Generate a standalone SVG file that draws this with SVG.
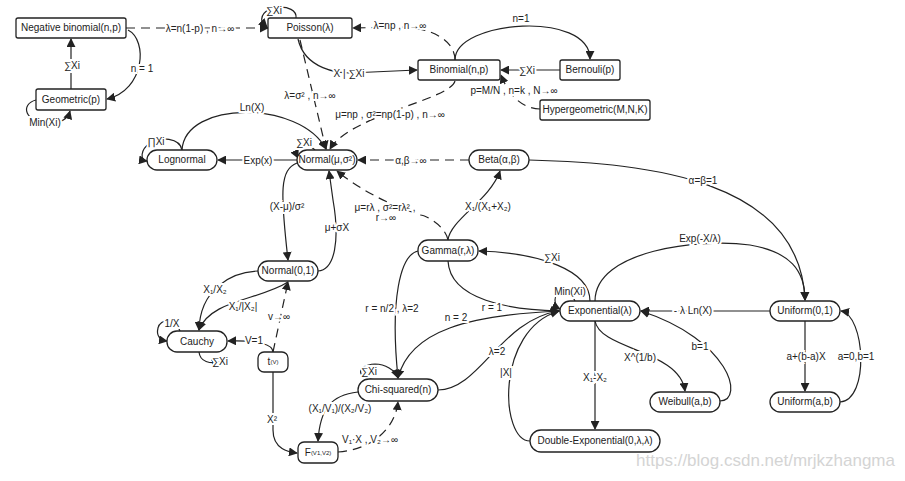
<svg xmlns="http://www.w3.org/2000/svg" width="905" height="481" viewBox="0 0 905 481">
<style>
.n rect{fill:#fff;stroke:#222;stroke-width:1.3}
.n text,.l{font-family:"Liberation Sans",Arial,sans-serif;font-size:10px;fill:#222;text-anchor:middle}
.n text{dominant-baseline:middle}
.l{paint-order:stroke;stroke:#fff;stroke-width:4px;dominant-baseline:middle}
#edges path{fill:none;stroke:#222;stroke-width:1.2;marker-end:url(#ah)}
#edges path.d{stroke-dasharray:9,6}
</style>
<defs><marker id="ah" viewBox="0 0 10 10" refX="9" refY="5" markerWidth="9" markerHeight="9" markerUnits="userSpaceOnUse" orient="auto"><path d="M0,0L10,5L0,10z" fill="#222"/></marker></defs>
<rect width="905" height="481" fill="#fff"/>
<g id="edges">
<path class="d" d="M126,28 L268,28"/>
<path d="M128,30 C148,40 145,90 107,99"/>
<path d="M71,89 L71,39"/>
<path d="M36,100 C20,104 24,123 50,123 C62,123 68,118 70,111"/>
<path d="M296,18 C298,2 258,4 262,22 L267,27"/>
<path class="d" d="M455,60 C455,40 430,27 400,27 L353,28"/>
<path d="M298,39 C305,70 340,73 350,73 L417,70"/>
<path class="d" d="M300,40 L326,149"/>
<path class="d" d="M455,81 C450,100 350,115 330,149"/>
<path d="M455,60 C455,20 590,10 590,59"/>
<path d="M560,70 L501,70"/>
<path class="d" d="M540,109 C515,108 505,85 501,75"/>
<path d="M315,150 C305,140 292,145 298,158"/>
<path d="M182,150 C180,138 160,136 150,143 C140,150 140,160 147,161"/>
<path d="M182,150 C185,100 300,100 326,149"/>
<path d="M297,160 L218,160"/>
<path class="d" d="M469,160 L358,160"/>
<path d="M529,160 C650,163 800,180 805,300"/>
<path d="M297,163 C280,170 280,190 288,260"/>
<path d="M318,271 C335,270 340,240 333,200 L329,171"/>
<path class="d" d="M448,240 C445,225 425,215 420,215 C390,205 360,190 337,171"/>
<path d="M448,240 C450,220 490,200 500,171"/>
<path d="M258,271 C230,272 200,290 199,330"/>
<path class="d" d="M273,352 L288,282"/>
<path d="M288,282 C260,300 210,300 199,330"/>
<path d="M180,331 C176,318 160,318 158,328 C156,336 160,340 167,341"/>
<path d="M199,352 C200,362 210,364 220,362"/>
<path d="M273,352 C273,345 260,340 228,341"/>
<path d="M273,372 L273,430 C273,450 290,452 297,453"/>
<path d="M418,251 C400,255 390,300 398,378"/>
<path d="M448,261 C450,300 510,310 559,311"/>
<path d="M590,301 C590,270 540,253 479,251"/>
<path d="M575,301 C568,285 555,290 555,300 C555,305 558,308 560,309"/>
<path d="M560,311 C470,315 410,330 398,378"/>
<path d="M438,390 C480,390 500,320 559,311"/>
<path d="M530,441 C500,441 495,330 559,311"/>
<path d="M595,321 L595,429"/>
<path d="M595,321 C600,350 680,350 685,391"/>
<path d="M720,401 C745,400 730,340 641,311"/>
<path d="M595,301 C595,250 700,238 750,245 C790,252 805,270 805,300"/>
<path d="M770,311 L641,311"/>
<path d="M805,321 L805,391"/>
<path d="M840,402 C870,400 865,315 841,311"/>
<path d="M380,380 C355,380 355,365 375,364 C385,364 395,370 398,378"/>
<path d="M358,392 C330,395 320,410 318,441"/>
<path class="d" d="M338,452 C370,450 395,430 398,402"/>
</g>
<g id="labels">
<text class="l" x="200" y="29">λ=n(1-p) , n→∞</text>
<text class="l" x="142" y="69">n = 1</text>
<text class="l" x="72" y="66">∑Xi</text>
<text class="l" x="45" y="123">Min(Xi)</text>
<text class="l" x="274" y="11">∑Xi</text>
<text class="l" x="400" y="26">λ=np , n→∞</text>
<text class="l" x="349" y="74">X | ∑Xi</text>
<text class="l" x="310" y="96">λ=σ² , n→∞</text>
<text class="l" x="390" y="115">μ=np , σ²=np(1-p) , n→∞</text>
<text class="l" x="521" y="19">n=1</text>
<text class="l" x="527" y="71">∑Xi</text>
<text class="l" x="514" y="91">p=M/N , n=k , N→∞</text>
<text class="l" x="304" y="143">∑Xi</text>
<text class="l" x="156" y="142">∏Xi</text>
<text class="l" x="252" y="108">Ln(X)</text>
<text class="l" x="258" y="161">Exp(x)</text>
<text class="l" x="411" y="161">α,β→∞</text>
<text class="l" x="703" y="181">α=β=1</text>
<text class="l" x="287" y="207">(X-μ)/σ²</text>
<text class="l" x="337" y="228">μ+σX</text>
<text class="l" x="385" y="208">μ=rλ , σ²=rλ² ,</text>
<text class="l" x="386" y="218">r→∞</text>
<text class="l" x="488" y="207">X₁/(X₁+X₂)</text>
<text class="l" x="215" y="290">X₁/X₂</text>
<text class="l" x="243" y="307">X₁/|X₂|</text>
<text class="l" x="279" y="317">v→∞</text>
<text class="l" x="172" y="324">1/X</text>
<text class="l" x="220" y="362">∑Xi</text>
<text class="l" x="254" y="341">V=1</text>
<text class="l" x="272" y="420">X²</text>
<text class="l" x="392" y="309">r = n/2 , λ=2</text>
<text class="l" x="492" y="308">r = 1</text>
<text class="l" x="552" y="258">∑Xi</text>
<text class="l" x="570" y="292">Min(Xi)</text>
<text class="l" x="456" y="318">n = 2</text>
<text class="l" x="497" y="352">λ=2</text>
<text class="l" x="506" y="373">|X|</text>
<text class="l" x="595" y="378">X₁-X₂</text>
<text class="l" x="640" y="358">X^(1/b)</text>
<text class="l" x="700" y="347">b=1</text>
<text class="l" x="700" y="239">Exp(-X/λ)</text>
<text class="l" x="693" y="311">- λ Ln(X)</text>
<text class="l" x="806" y="357">a+(b-a)X</text>
<text class="l" x="856" y="357">a=0,b=1</text>
<text class="l" x="369" y="372">∑Xi</text>
<text class="l" x="340" y="409">(X₁/V₁)/(X₂/V₂)</text>
<text class="l" x="370" y="440">V₁·X , V₂→∞</text>
</g>
<g id="nb" class="n"><rect x="16" y="18" width="110" height="20" rx="2"/><text x="71" y="28">Negative binomial(n,p)</text></g>
<g id="poisson" class="n"><rect x="268" y="18" width="84" height="20" rx="2"/><text x="310" y="28">Poisson(λ)</text></g>
<g id="binomial" class="n"><rect x="418" y="60" width="82" height="20" rx="2"/><text x="459" y="70">Binomial(n,p)</text></g>
<g id="bernoulli" class="n"><rect x="560" y="60" width="60" height="20" rx="2"/><text x="590" y="70">Bernouli(p)</text></g>
<g id="hyper" class="n"><rect x="540" y="100" width="110" height="20" rx="2"/><text x="595" y="110">Hypergeometric(M,N,K)</text></g>
<g id="geom" class="n"><rect x="36" y="89" width="70" height="21" rx="2"/><text x="71" y="100">Geometric(p)</text></g>
<g id="lognormal" class="n"><rect x="147" y="150" width="70" height="20" rx="10"/><text x="182" y="160">Lognormal</text></g>
<g id="normal" class="n"><rect x="297" y="150" width="60" height="20" rx="10"/><text x="327" y="160">Normal(μ,σ²)</text></g>
<g id="beta" class="n"><rect x="469" y="150" width="60" height="20" rx="10"/><text x="499" y="160">Beta(α,β)</text></g>
<g id="normal01" class="n"><rect x="258" y="261" width="60" height="20" rx="10"/><text x="288" y="271">Normal(0,1)</text></g>
<g id="cauchy" class="n"><rect x="167" y="331" width="60" height="21" rx="10"/><text x="197" y="342">Cauchy</text></g>
<g id="t" class="n"><rect x="258" y="352" width="30" height="20" rx="6"/><text x="273" y="362">t<tspan font-size="6">(V)</tspan></text></g>
<g id="chi" class="n"><rect x="358" y="379" width="80" height="22" rx="11"/><text x="398" y="390">Chi-squared(n)</text></g>
<g id="f" class="n"><rect x="298" y="442" width="40" height="21" rx="6"/><text x="318" y="453">F<tspan font-size="6">(V1,V2)</tspan></text></g>
<g id="gamma" class="n"><rect x="418" y="240" width="60" height="21" rx="10"/><text x="448" y="251">Gamma(r,λ)</text></g>
<g id="exp" class="n"><rect x="560" y="301" width="80" height="20" rx="10"/><text x="600" y="311">Exponential(λ)</text></g>
<g id="u01" class="n"><rect x="770" y="301" width="70" height="20" rx="10"/><text x="805" y="311">Uniform(0,1)</text></g>
<g id="uab" class="n"><rect x="770" y="392" width="70" height="20" rx="10"/><text x="805" y="402">Uniform(a,b)</text></g>
<g id="weibull" class="n"><rect x="650" y="392" width="70" height="20" rx="10"/><text x="685" y="402">Weibull(a,b)</text></g>
<g id="dexp" class="n"><rect x="530" y="430" width="130" height="22" rx="11"/><text x="595" y="441">Double-Exponential(0,λ,λ)</text></g>
<text x="895" y="466" font-family="Liberation Sans,Arial,sans-serif" font-size="17" fill="#d4d4d4" text-anchor="end">https://blog.csdn.net/mrjkzhangma</text>
</svg>
